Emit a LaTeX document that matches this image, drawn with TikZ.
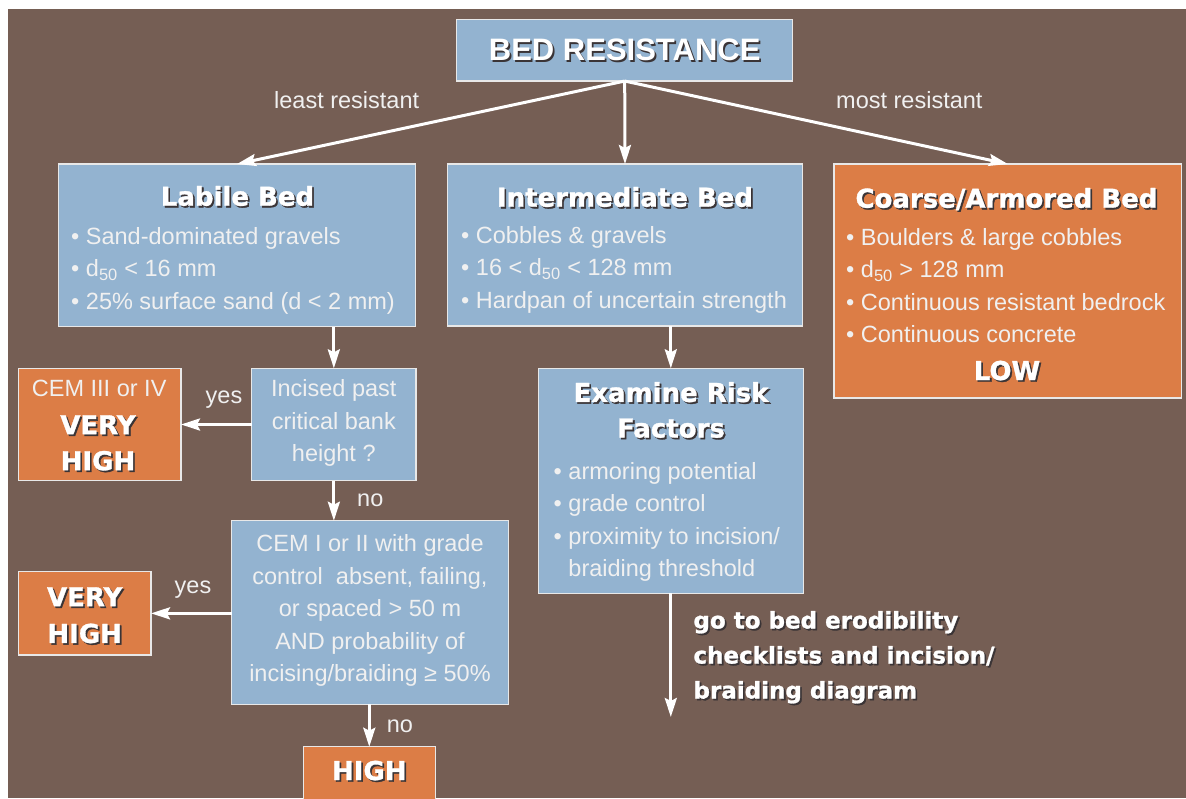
\documentclass[tikz,border=0pt]{standalone}
\usepackage{fontspec}
\setmainfont{Liberation Sans}
\newfontfamily\heavy[BoldFeatures={FakeBold=1.2}]{DejaVu Sans}
\usetikzlibrary{arrows.meta}

\definecolor{bgbrown}{HTML}{755E54}
\definecolor{boxblue}{HTML}{93B3D0}
\definecolor{boxorange}{HTML}{DC7D46}
\definecolor{edge}{HTML}{E8E8E8}
\definecolor{txtc}{HTML}{F0F0F0}
\definecolor{shade}{HTML}{3A3436}

% text with a dark drop shadow behind it
\newcommand\shadowed[1]{\rlap{\kern1.7pt\raisebox{-1.7pt}{\color{shade}#1}}#1}
% fixed first-line height, so north anchors sit a known distance above the baseline
\newcommand\topstrut{\rule{0pt}{20pt}}

\tikzset{
  box/.style={draw=edge, line width=1.3pt, inner sep=0pt, outer sep=0pt},
  bluebox/.style={box, fill=boxblue},
  orangebox/.style={box, fill=boxorange},
  body/.style={inner sep=0pt, text=txtc, font=\fontsize{23.5}{32.4}\selectfont},
  heading/.style={inner sep=0pt, anchor=base, text=white, font=\heavy\bfseries\fontsize{26}{36}\selectfont},
  link/.style={draw=white, line width=3pt, -{Stealth[length=19pt,width=12pt,inset=3pt]}},
}

\begin{document}
\begin{tikzpicture}[x=1pt,y=-1pt]
\useasboundingbox (0,0) rectangle (1186,798);
\clip (0,0) rectangle (1186,798);
\fill[white] (0,0) rectangle (1186,798);
\fill[bgbrown] (8,9) rectangle (1186,798);

% ---------- boxes ----------
\node[bluebox, minimum width=336pt, minimum height=61.7pt] (top) at (624.7,50.2) {};
\node[bluebox, minimum width=357.4pt, minimum height=162.5pt] (labile) at (237,245.25) {};
\node[bluebox, minimum width=355.4pt, minimum height=162pt] (inter) at (625,245) {};
\node[orangebox, minimum width=347.7pt, minimum height=234pt] (coarse) at (1007.85,281) {};
\node[bluebox, minimum width=164.3pt, minimum height=112.4pt] (incised) at (333.85,424.5) {};
\node[orangebox, minimum width=162.7pt, minimum height=112.4pt] (cemthree) at (99.65,424.5) {};
\node[bluebox, minimum width=265pt, minimum height=225pt] (examine) at (670.8,480.8) {};
\node[bluebox, minimum width=276.6pt, minimum height=183.6pt] (cemone) at (370,612.5) {};
\node[orangebox, minimum width=132.7pt, minimum height=83.3pt] (veryhigh) at (84.65,613.35) {};
\node[orangebox, minimum width=132pt, minimum height=90pt] (high) at (369.3,791.7) {};

% ---------- texts ----------
\node[inner sep=0pt, anchor=base, text=white, font=\bfseries\fontsize{31}{36}\selectfont]
  (toptitle) at (624.7,60.7) {\shadowed{BED RESISTANCE}};
\node[body, anchor=base west] (least) at (274,108.3) {least resistant};
\node[body, anchor=base west] (most) at (836,108.3) {most resistant};

\node[heading] (labiletitle) at (237.5,205.7) {\shadowed{Labile Bed}};
\node[body, anchor=north west, align=left] (labiletext) at (71,224)
  {\topstrut• Sand-dominated gravels\\
   • d\textsubscript{50} < 16 mm\\
   • 25\% surface sand (d < 2 mm)};

\node[heading] (intertitle) at (625,206.7) {\shadowed{Intermediate Bed}};
\node[body, anchor=north west, align=left] (intertext) at (461,223.3)
  {\topstrut• Cobbles \& gravels\\
   • 16 < d\textsubscript{50} < 128 mm\\
   • Hardpan of uncertain strength};

\node[heading] (coarsetitle) at (1006.5,207.7) {\shadowed{Coarse/Armored Bed}};
\node[body, anchor=north west, align=left] (coarsetext) at (846,225)
  {\topstrut• Boulders \& large cobbles\\
   • d\textsubscript{50} > 128 mm\\
   • Continuous resistant bedrock\\
   • Continuous concrete};
\node[heading] (low) at (1007,380) {\shadowed{LOW}};

\node[body, anchor=north, align=center] (incisedtext) at (333.8,376.7)
  {\topstrut Incised past\\critical bank\\height ?};

\node[body, anchor=base] (cemthreetext) at (99.2,396.7) {CEM III or IV};
\node[heading, anchor=north, align=center, font=\heavy\bfseries\fontsize{26}{36}\selectfont]
  (cemthreerisk) at (98,414) {\topstrut\shadowed{VERY}\\\shadowed{HIGH}};

\node[body, anchor=north, align=center] (cemonetext) at (370,531.7)
  {\topstrut CEM I or II with grade\\
   control\ \ absent, failing,\\
   or spaced > 50 m\\
   AND probability of\\
   incising/braiding ≥ 50\%};

\node[heading, anchor=north, align=center, font=\heavy\bfseries\fontsize{26}{36.7}\selectfont]
  (veryhightext) at (84.7,586) {\topstrut\shadowed{VERY}\\\shadowed{HIGH}};

\node[heading] (hightext) at (369.3,780) {\shadowed{HIGH}};

\node[heading, anchor=north, align=center, font=\heavy\bfseries\fontsize{26}{35.6}\selectfont]
  (examinetitle) at (671,381.7) {\topstrut\shadowed{Examine Risk}\\\shadowed{Factors}};
\node[body, anchor=north west, align=left] (examinetext) at (553.5,459)
  {\topstrut• armoring potential\\
   • grade control\\
   • proximity to incision/\\
   \hphantom{• }braiding threshold};

\node[inner sep=0pt, anchor=north west, align=left, text=white,
      font=\heavy\bfseries\fontsize{23}{35}\selectfont] (gotext) at (693.3,608.3)
  {\topstrut\shadowed{go to bed erodibility}\\
   \shadowed{checklists and incision/}\\
   \shadowed{braiding diagram}};

% edge labels
\node[body, anchor=base] (yesone) at (224,403) {yes};
\node[body, anchor=base west] (noone) at (357,506.7) {no};
\node[body, anchor=base] (yestwo) at (193,593.3) {yes};
\node[body, anchor=base west] (notwo) at (386.7,732.7) {no};

% ---------- connectors ----------
\coordinate (goto) at (670.8,717);
\draw[link] (top.south) -- (labile.north);
\draw[link] (top.south) -- (inter.north);
\draw[link] (top.south) -- (coarse.north);
\draw[link] (incised.north |- labile.south) -- (incised.north);
\draw[link] (incised.west) -- (cemthree.east);
\draw[link] (incised.south) -- (incised.south |- cemone.north);
\draw[link] (cemone.west |- veryhigh.east) -- (veryhigh.east);
\draw[link] (high.north |- cemone.south) -- (high.north);
\draw[link] (examine.north |- inter.south) -- (examine.north);
\draw[link] (examine.south) -- (goto);
\end{tikzpicture}
\end{document}
